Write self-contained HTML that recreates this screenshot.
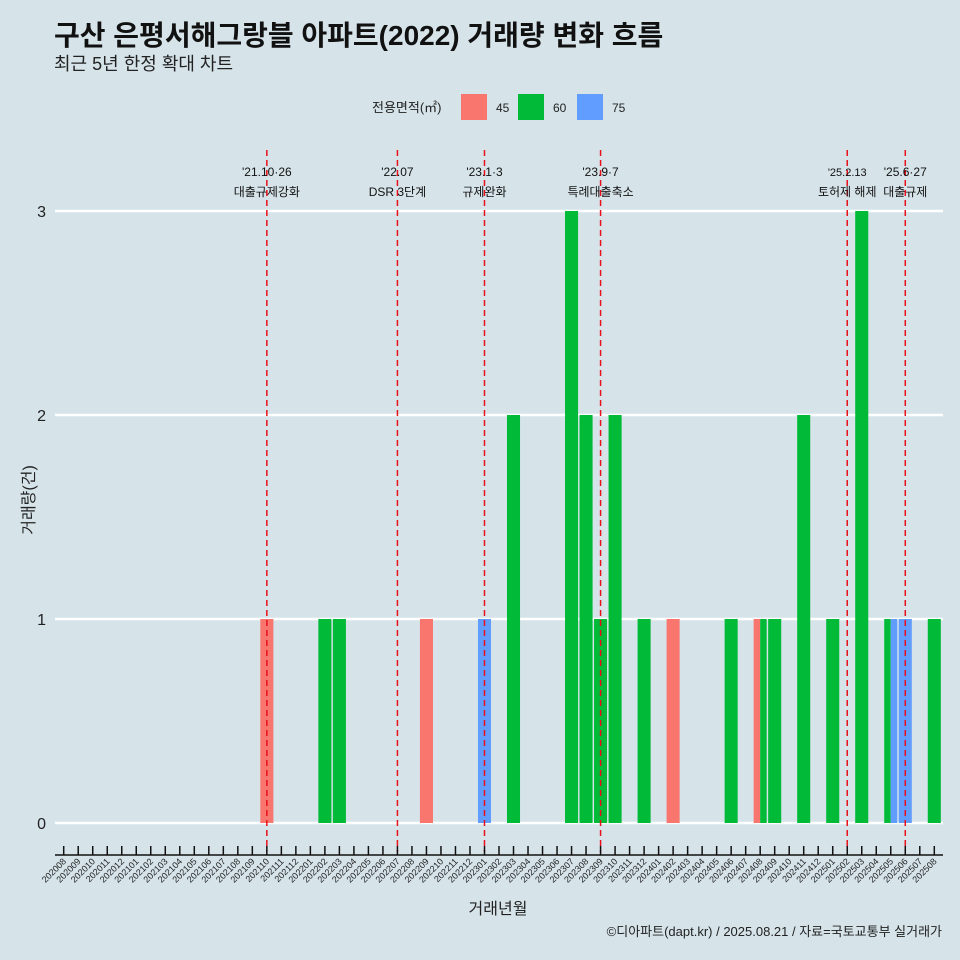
<!DOCTYPE html>
<html><head><meta charset="utf-8"><style>
body{margin:0;background:#d6e4ea;}
svg{display:block;font-family:"Liberation Sans","Noto Sans CJK KR",sans-serif;}
</style></head><body>
<svg id="c" width="960" height="960" xmlns="http://www.w3.org/2000/svg">
<rect width="960" height="960" fill="#d6e4ea"/>
<text x="54" y="45" font-size="28" font-weight="bold" fill="#111">구산 은평서해그랑블 아파트(2022) 거래량 변화 흐름</text>
<text x="54" y="70" font-size="18" fill="#222">최근 5년 한정 확대 차트</text>
<g>
<text x="372" y="112" font-size="13" fill="#222">전용면적(㎡)</text>
<rect x="461" y="94" width="26" height="26" fill="#f8766d"/>
<text x="496" y="112" font-size="12" fill="#222">45</text>
<rect x="518" y="94" width="26" height="26" fill="#00ba38"/>
<text x="553" y="112" font-size="12" fill="#222">60</text>
<rect x="577" y="94" width="26" height="26" fill="#619cff"/>
<text x="612" y="112" font-size="12" fill="#222">75</text>
</g>
<text transform="translate(34,500) rotate(-90)" text-anchor="middle" font-size="16" fill="#222">거래량(건)</text>
<text x="498" y="914" text-anchor="middle" font-size="16" fill="#222">거래년월</text>
<text x="942" y="936" text-anchor="end" font-size="13" fill="#222">©디아파트(dapt.kr) / 2025.08.21 / 자료=국토교통부 실거래가</text>
<g id="grid"></g><g id="bars"></g><g id="vlines"></g><g id="xaxis"></g>
</svg>
<script>
const months=[];for(let y=2020,m=8;y*100+m<=202508;){months.push(''+y+(m<10?'0':'')+m);m++;if(m>12){m=1;y++;}}
const yTicks=[0,1,2,3];
const barMonths=['202110','202202','202203','202209','202301','202303','202307','202308','202309','202310','202312','202402','202406','202408','202408','202409','202411','202501','202503','202505','202505','202506','202508'];
const barAreas=['45','60','60','45','75','60','60','60','60','60','60','45','60','45','60','60','60','60','60','60','75','75','60'];
const barCounts=[1,1,1,1,1,2,3,2,1,2,1,1,1,1,1,1,2,1,3,1,1,1,1];
const eventMonths=['202110','202207','202301','202309','202502','202506'];
const eventLine1=["'21.10·26","'22.07","'23.1·3","'23.9·7","'25.2.13","'25.6·27"];
const eventLine2=['대출규제강화','DSR 3단계','규제완화','특례대출축소','토허제 해제','대출규제'];
const colors={'45':'#f8766d','60':'#00ba38','75':'#619cff'};
const NS='http://www.w3.org/2000/svg';
const L=55,R=943,step=(R-L)/(months.length+0.2);
const xc=m=>L+(0.6+months.indexOf(m))*step;
const y=v=>823-204*v;
function mk(t,a,p){const e=document.createElementNS(NS,t);for(const k in a)e.setAttribute(k,a[k]);p.appendChild(e);return e;}
const g=document.getElementById('grid');
yTicks.forEach(v=>{
 const l=mk('line',{x1:L,x2:R,y1:y(v),y2:y(v),stroke:'#fff','stroke-width':2.5},g);
 
 
 const t=mk('text',{x:46,y:y(v)+6,'text-anchor':'end','font-size':16,fill:'#222'},g);t.textContent=v;
 
 
});
const bg=document.getElementById('bars');
const bw=step*0.9;
barMonths.forEach((m,i)=>{
 const same=barMonths.map((mm,j)=>mm===m?j:-1).filter(j=>j>=0);
 const n=same.length,k=same.indexOf(i),w=bw/n;
 const x0=xc(m)-bw/2+k*w;
 const r=mk('rect',{x:x0,y:y(barCounts[i]),width:w,height:y(0)-y(barCounts[i]),fill:colors[barAreas[i]]},bg);
 
 
});
const vg=document.getElementById('vlines');
eventMonths.forEach((m,i)=>{
 const x=xc(m);
 const l=mk('line',{x1:x,x2:x,y1:150,y2:852,stroke:'#e8101a','stroke-width':1.5,'stroke-dasharray':'6,4'},vg);
 
 
 const small=i===4;
 const t1=mk('text',{x:x,y:176,'text-anchor':'middle','font-size':small?11:12,fill:'#111'},vg);t1.textContent=eventLine1[i];
 
 
 const t2=mk('text',{x:x,y:196,'text-anchor':'middle','font-size':12,fill:'#111'},vg);t2.textContent=eventLine2[i];
 
 
});
const xg=document.getElementById('xaxis');
const al=mk('line',{x1:L,x2:R,y1:855,y2:855,stroke:'#111','stroke-width':1.5},xg);


months.forEach(m=>{
 const x=xc(m);
 mk('line',{x1:x,x2:x,y1:846,y2:855,stroke:'#111','stroke-width':1.5},xg);
 const t=mk('text',{transform:`translate(${x+3},862) rotate(-45)`,'text-anchor':'end','font-size':9,fill:'#222'},xg);t.textContent=m;
 
 
});
</script>
</body></html>
